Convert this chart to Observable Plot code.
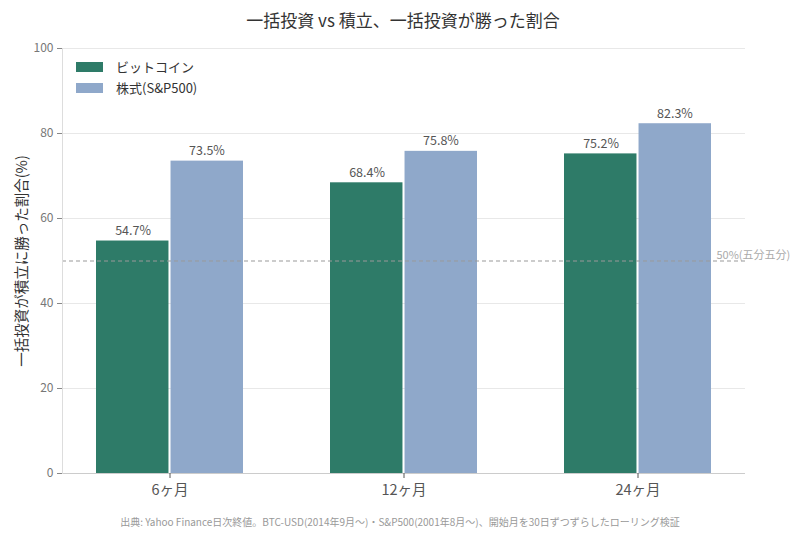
<!DOCTYPE html>
<html>
<head>
<meta charset="utf-8">
<script src="https://cdn.jsdelivr.net/npm/d3@7"></script>
<script src="https://cdn.jsdelivr.net/npm/@observablehq/plot@0.6"></script>
<style>
  body { margin: 0; background: #fff; font-family: "Noto Sans CJK JP", "Noto Sans", sans-serif; }
  #wrap { position: relative; width: 800px; height: 533px; }
  #title { height: 34px; line-height: 40px; text-align: center; font-size: 17px; color: #333; padding-left: 6px; box-sizing: border-box; overflow: visible; }
  #caption { position: absolute; left: 0; top: 514px; width: 800px; text-align: center; font-size: 10px; color: #999; }
  #legend { position: absolute; left: 76px; top: 56px; font-size: 13px; color: #333; }
  #legend .row { display: flex; align-items: center; height: 21px; }
  #legend .sw { width: 27px; height: 10px; margin-right: 13px; }
</style>
</head>
<body>
<div id="wrap">
  <div id="title">一括投資 vs 積立、一括投資が勝った割合</div>
  <div id="chart"></div>
  <div id="legend"></div>
  <div id="caption">出典: Yahoo Finance日次終値。BTC-USD(2014年9月〜)・S&amp;P500(2001年8月〜)、開始月を30日ずつずらしたローリング検証</div>
</div>
<script>
const periods = ["6ヶ月", "12ヶ月", "24ヶ月"];
const seriesNames = ["ビットコイン", "株式(S&P500)"];
const btcValues = [54.7, 68.4, 75.2];
const spValues = [73.5, 75.8, 82.3];
const colors = ["#2e7b68", "#8fa8ca"];
const yTicks = [0, 20, 40, 60, 80, 100];
const yLabel = "一括投資が積立に勝った割合(%)";
const refValue = 50;
const refLabel = "50%(五分五分)";

const btcData = periods.map((p, i) => ({period: p, series: seriesNames[0], value: btcValues[i]}));
const spData = periods.map((p, i) => ({period: p, series: seriesNames[1], value: spValues[i]}));

const W = 800, mL = 62, mR = 55;
const padIn = 0.37, padOut = 0.14;
const step = (W - mL - mR) / (periods.length - padIn + 2 * padOut);
const bw = step * (1 - padIn);
const half = bw / 2;

const labelText = d => d.value.toFixed(1) + "%";

const chart = Plot.plot({
  width: W,
  height: 471,
  marginTop: 14,
  marginBottom: 32,
  marginLeft: mL,
  marginRight: mR,
  style: {fontFamily: '"Noto Sans CJK JP", "Noto Sans", sans-serif', background: "#fff", overflow: "visible"},
  x: {domain: periods, paddingInner: padIn, paddingOuter: padOut, label: null},
  y: {domain: [0, 100], label: null},
  marks: [
    Plot.gridY(yTicks.slice(1), {stroke: "#e8e8e8", strokeOpacity: 1}),
    Plot.barY(btcData, {x: "period", y: "value", fill: colors[0], insetRight: half + 0.6}),
    Plot.barY(spData, {x: "period", y: "value", fill: colors[1], insetLeft: half + 0.6}),
    Plot.ruleY([refValue], {stroke: "#999", strokeDasharray: "4,3", strokeWidth: 1}),
    Plot.text([refLabel], {frameAnchor: "right", y: [refValue], textAnchor: "start", dx: -29, dy: -6, fill: "#aaa", fontSize: 11}),
    Plot.text(btcData, {x: "period", y: "value", text: labelText, lineAnchor: "bottom", dx: -half / 2, dy: -6, fill: "#555", fontSize: 12.5}),
    Plot.text(spData, {x: "period", y: "value", text: labelText, lineAnchor: "bottom", dx: half / 2, dy: -6, fill: "#555", fontSize: 12.5}),
    Plot.ruleY([0], {stroke: "#ccc"}),
    Plot.frame({anchor: "left", stroke: "#ddd"}),
    Plot.axisY({ticks: yTicks, tickSize: 5, tickPadding: 4, fontSize: 12, color: "#777", stroke: "#888", label: null}),
    Plot.text([yLabel], {frameAnchor: "left", textAnchor: "middle", rotate: -90, dx: -40, fontSize: 14.5, fill: "#333"}),
    Plot.axisX({tickSize: 5, fontSize: 14.5, color: "#555", tickPadding: 6, label: null})
  ]
});
document.getElementById("chart").appendChild(chart);

const legend = document.getElementById("legend");
seriesNames.forEach((s, i) => {
  const row = document.createElement("div");
  row.className = "row";
  const sw = document.createElement("div");
  sw.className = "sw";
  sw.style.background = colors[i];
  const t = document.createElement("span");
  t.textContent = s;
  row.appendChild(sw);
  row.appendChild(t);
  legend.appendChild(row);
});
</script>
</body>
</html>
